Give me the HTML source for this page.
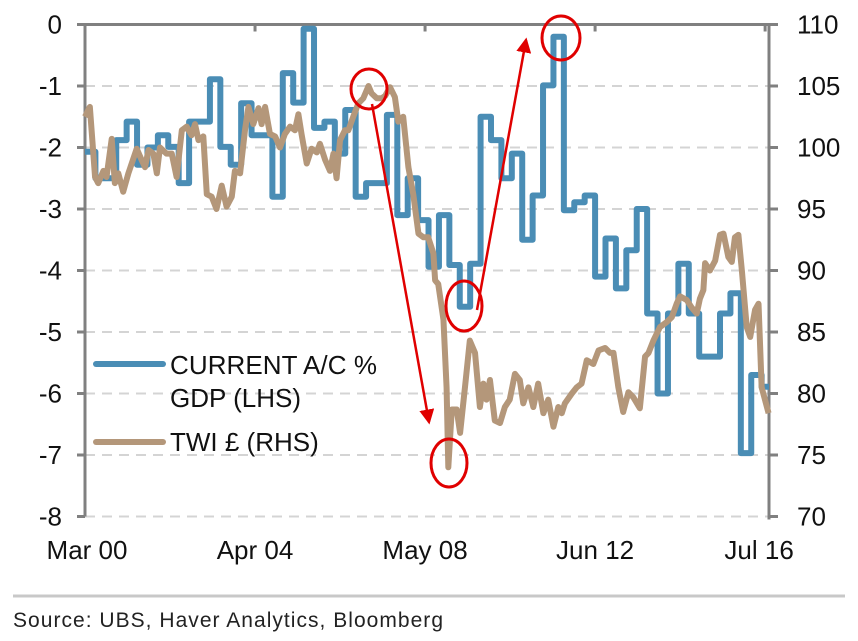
<!DOCTYPE html>
<html><head><meta charset="utf-8"><style>
body{margin:0;background:#fff;}
svg{display:block;font-family:"Liberation Sans",sans-serif;}
</style></head><body>
<svg id="chart" width="858" height="641" viewBox="0 0 858 641"></svg>
<script>
const lhsTicks=[0,-1,-2,-3,-4,-5,-6,-7,-8];
const rhsTicks=[110,105,100,95,90,85,80,75,70];
const xLabels=["Mar 00","Apr 04","May 08","Jun 12","Jul 16"];
const xLabelMonths=[0,49,98,147,196];
// current account % GDP, quarterly from Q1 2000
const caValues=[-2.07,-2.5,-2.5,-1.88,-1.58,-2.28,-2.0,-1.8,-1.99,-2.58,-1.58,-1.58,-0.89,-1.99,-2.28,-1.28,-1.8,-1.8,-2.8,-0.79,-1.27,-0.07,-1.68,-1.58,-2.1,-1.39,-2.8,-2.58,-2.58,-1.47,-3.1,-2.5,-3.18,-3.94,-3.1,-3.91,-4.59,-3.89,-1.5,-1.88,-2.5,-2.1,-3.5,-2.78,-0.99,-0.2,-3.02,-2.89,-2.78,-4.1,-3.48,-4.29,-3.67,-3.0,-4.7,-6.0,-4.7,-3.89,-4.7,-5.4,-5.4,-4.7,-4.37,-6.97,-5.7,-5.89];
// TWI: months since Mar 2000 and index values
const twiMonths=[0,1.4,2.9,3.8,5.3,6.2,7.7,8.6,9.6,11.0,12.5,14.9,16.3,17.3,18.3,19.7,20.7,21.6,23.5,25.0,26.4,27.9,29.3,30.7,31.7,32.7,34.1,35.1,36.5,37.9,39.4,40.8,42.3,43.2,44.7,46.1,47.1,48.5,50.0,50.9,51.9,53.3,54.8,56.2,57.6,59.1,60.5,61.5,62.4,63.9,65.3,66.8,67.7,69.2,70.6,71.6,72.5,73.5,74.9,75.9,77.3,78.8,80.2,81.7,82.6,84.1,85.5,86.5,87.9,89.3,90.3,91.7,93.2,94.6,96.1,97.5,98.9,100.4,100.9,101.8,103.3,104.2,104.7,105.7,107.1,108.1,109.5,110.9,112.4,113.8,114.8,115.7,116.7,118.1,119.6,121.0,122.4,123.9,125.3,126.3,127.8,129.2,130.6,132.1,133.5,135.0,136.4,137.4,138.3,140.3,141.7,143.1,144.6,146.5,148.0,149.9,151.3,152.3,153.7,155.1,156.6,158.0,159.9,161.4,162.4,163.8,165.7,167.6,169.1,170.5,171.5,173.4,174.8,176.3,177.2,178.2,178.7,180.1,181.6,183.0,184.0,185.4,186.4,187.3,188.3,189.3,190.7,191.7,193.1,194.1,195.0,197.0];
const twiValues=[102.5,103.3,97.6,97.1,98.1,97.6,100.7,97.1,97.9,96.4,97.9,99.9,99.0,98.4,99.8,99.5,97.9,100.0,99.5,99.5,97.6,101.4,101.7,101.0,101.9,100.6,100.9,96.2,96.0,95.0,96.9,95.2,96.0,98.1,97.9,101.4,103.3,101.9,103.2,101.9,103.3,101.1,100.9,100.0,101.1,101.7,101.4,102.7,101.1,98.7,99.9,99.6,100.3,99.0,98.1,99.5,97.5,100.6,101.4,101.4,102.5,103.6,104.0,105.0,104.4,104.0,104.0,104.2,104.9,104.1,102.1,102.5,98.4,96.2,93.0,92.7,92.7,91.4,89.2,88.9,86.0,80.5,74.0,78.7,78.7,76.8,80.5,84.3,83.3,78.9,80.8,79.5,81.1,77.8,77.6,78.9,79.5,81.6,81.1,79.2,80.5,78.9,80.8,78.4,79.5,77.3,78.9,78.4,79.2,80.0,80.5,80.8,82.7,82.4,83.5,83.7,83.3,83.3,80.5,78.5,80.1,79.7,78.8,83.0,83.3,84.3,85.4,85.8,86.2,87.3,87.9,87.6,87.0,86.5,87.7,88.4,90.6,90.0,90.8,92.9,93.0,91.1,90.7,92.7,92.9,90.0,85.4,84.6,86.8,87.3,80.5,78.4];

const NS="http://www.w3.org/2000/svg";
const svg=document.getElementById('chart');
const L=85,R=769,T=24.5,B=516.5;
const xm=m=>L+m*3.47;
const yl=v=>T+(0-v)/8*(B-T);
const yr=v=>T+(110-v)/40*(B-T);
function mk(tag,attrs,parent){const e=document.createElementNS(NS,tag);for(const k in attrs)e.setAttribute(k,attrs[k]);(parent||svg).appendChild(e);return e;}

lhsTicks.forEach((t,i)=>{
  if(t!==0){const g=mk('line',{x1:L,x2:R,y1:yl(t),y2:yl(t),stroke:'#d4d4d4','stroke-width':2,'stroke-dasharray':'10,7'});
  
  }
  const tl=mk('text',{x:62,y:yl(t)+9,'text-anchor':'end','font-size':26,fill:'#111'});tl.textContent=t;
  
  
  mk('line',{x1:L-8,x2:L,y1:yl(t),y2:yl(t),stroke:'#808080','stroke-width':3});
});
rhsTicks.forEach(t=>{
  const tl=mk('text',{x:797,y:yr(t)+9,'font-size':26,fill:'#111'});tl.textContent=t;
  
  
  mk('line',{x1:R,x2:R+9,y1:yr(t),y2:yr(t),stroke:'#808080','stroke-width':3});
});
xLabels.forEach((s,i)=>{
  const x=xm(xLabelMonths[i]);
  const tl=mk('text',{x:x+(i==0?2:(i==4?-6:0)),y:559,'text-anchor':'middle','font-size':26,fill:'#111'});tl.textContent=s;
  
  
  if(i>0)mk('line',{x1:x,x2:x,y1:T,y2:T+7,stroke:'#808080','stroke-width':3});
});
mk('line',{x1:L,x2:R+9,y1:T,y2:T,stroke:'#808080','stroke-width':3});
mk('line',{x1:L,x2:L,y1:T,y2:B,stroke:'#808080','stroke-width':3});
mk('line',{x1:R,x2:R,y1:T,y2:B+3,stroke:'#808080','stroke-width':3});

let d='';
caValues.forEach((v,k)=>{const x0=xm(k*3),x1=Math.min(xm(k*3+3),R);d+=(k?'L':'M')+x0+','+yl(v)+'L'+x1+','+yl(v);});
const ca=mk('path',{d:d,fill:'none',stroke:'#4a8db5','stroke-width':6,'stroke-linejoin':'round'});


let d2='';
twiValues.forEach((v,i)=>{d2+=(i?'L':'M')+xm(twiMonths[i])+','+yr(v);});
const tw=mk('path',{d:d2,fill:'none',stroke:'#b4977a','stroke-width':6,'stroke-linejoin':'round'});


</script>
<svg width="858" height="641" style="position:absolute;left:0;top:0">
  <defs><marker id="ah" markerWidth="6" markerHeight="6" refX="5" refY="3" orient="auto"><path d="M0,0L6,3L0,6Z" fill="#e00000"/></marker></defs>
  <ellipse cx="369" cy="89" rx="18" ry="20" fill="none" stroke="#e00000" stroke-width="3"/>
  <ellipse cx="449" cy="463" rx="18" ry="24" fill="none" stroke="#e00000" stroke-width="3"/>
  <ellipse cx="464" cy="306" rx="18" ry="25" fill="none" stroke="#e00000" stroke-width="3"/>
  <ellipse cx="561" cy="38" rx="19" ry="22" fill="none" stroke="#e00000" stroke-width="3"/>
  <line x1="372" y1="104" x2="429" y2="422" stroke="#e00000" stroke-width="2.5" marker-end="url(#ah)"/>
  <line x1="477" y1="310" x2="526" y2="40" stroke="#e00000" stroke-width="2.5" marker-end="url(#ah)"/>
  <g font-family="Liberation Sans, sans-serif" font-size="26" fill="#111">
    <line x1="96" y1="364" x2="163" y2="364" stroke="#4a8db5" stroke-width="6" stroke-linecap="round"/>
    <text x="170" y="374" textLength="207">CURRENT A/C %</text>
    <text x="170" y="407">GDP (LHS)</text>
    <line x1="96" y1="442" x2="163" y2="442" stroke="#b4977a" stroke-width="6" stroke-linecap="round"/>
    <text x="170" y="451">TWI £ (RHS)</text>
  </g>
  <line x1="13" y1="596" x2="845" y2="596" stroke="#c8c8c8" stroke-width="3"/>
  <text x="13" y="627" font-family="Liberation Sans, sans-serif" font-size="21" textLength="430" fill="#222">Source:  UBS, Haver Analytics, Bloomberg</text>
</svg>
</body></html>
